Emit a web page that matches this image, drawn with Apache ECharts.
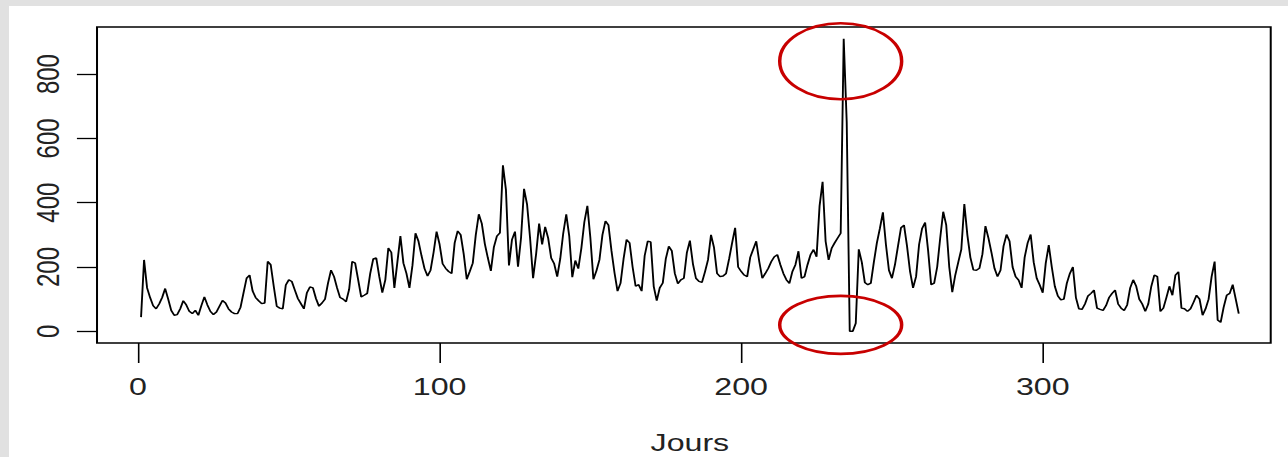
<!DOCTYPE html>
<html>
<head>
<meta charset="utf-8">
<script src="https://cdn.jsdelivr.net/npm/echarts@6/dist/echarts.min.js"></script>
<style>
  html, body { margin: 0; padding: 0; background: #e1e1e1; overflow: hidden; }
  #panel { position: absolute; left: 9px; top: 6px; right: 0; bottom: 0; background: #ffffff; }
  /* the plot is laid out narrower and widened horizontally, like a stretched R device */
  #chart { position: absolute; left: 0; top: 0; width: 961px; height: 457px;
           transform: scaleX(1.34); transform-origin: 0 0; }
</style>
</head>
<body>
<div id="panel"></div>
<div id="chart"></div>
<script>
// Daily counts, day 1 to day 365, in four blocks
const joursA = [
  44, 222, 135, 105, 80, 70, 85, 105, 133, 100, 65, 50, 52, 70, 95, 82, 62, 55, 65, 50,
  80, 107, 82, 62, 52, 60, 78, 96, 88, 70, 60, 55,
  55, 75, 120, 165, 175, 125, 105, 95, 86, 88, 217, 207, 140, 78, 72, 70, 144, 160,
  155, 128, 102, 86, 70, 120, 138, 135, 102, 78, 88, 100, 150, 190, 170, 135,
  105, 100, 92, 130, 217, 212, 160, 107, 112, 118, 180, 225, 228, 170, 120, 160, 259, 245,
  135, 215, 296, 212, 180, 135, 205, 305, 280, 235, 195, 172, 190, 245, 310
];
const joursB = [
  270, 210, 196, 186, 180, 275, 312, 300, 240, 162, 186, 212, 300, 364, 335, 272, 228, 188,
  262, 296, 306, 516, 440, 205, 285, 310, 201, 290, 443, 395, 290, 165, 240,
  335, 270, 325, 290, 228, 210, 170, 225, 305, 364, 295, 168, 220, 195, 258, 340, 390,
  290, 162, 188, 222, 300, 343, 330, 250, 182, 125, 150, 225, 285, 275, 200, 140, 145,
  125, 235, 280, 278, 140, 95, 135, 150, 225, 264, 250, 180, 148, 160, 165, 245, 282,
  210, 165, 155, 152, 185, 222, 300, 260, 180, 170, 172, 180, 225, 275, 322, 200, 186
];
const joursC = [
  175, 170, 230, 255, 280, 217, 165, 180, 196, 217, 232, 238, 207, 180, 160, 149, 186,
  207, 249, 165, 170, 207, 238, 254, 232, 390, 465, 280, 222, 258, 275, 290, 305,
  910, 650, 0, 0, 25, 255, 215, 152, 145, 150, 215, 275, 320, 370, 270, 190, 165, 207,
  265, 322, 330, 265, 186, 135, 170, 270, 320, 338, 250, 145, 150, 200, 290,
  372, 330, 200, 122, 175, 215, 255, 396, 300, 230, 191, 190, 196, 240, 327, 290, 245,
  196, 170, 190, 265, 301, 280, 200, 170, 159, 135, 230, 275, 301, 215, 165, 144, 120
];
const joursD = [
  212, 268, 200, 140, 110, 98, 100, 150, 180, 200, 105, 70, 68, 85, 110, 118, 128, 72,
  68, 65, 80, 105, 118, 128, 85, 72, 65, 82, 135, 160, 140, 100, 85,
  62, 85, 140, 175, 170, 62, 72, 105, 140, 112, 175, 185, 72, 70, 62, 70, 90, 112, 100,
  50, 70, 100, 170, 217, 35, 28, 75, 112, 118, 145, 100, 55
];

const xTicks = [0, 100, 200, 300];
const yTicks = [0, 200, 400, 600, 800];
const xLabel = 'Jours';

// Circled spots: the spike and the drop to zero just after it (data coordinates)
const circled = [[233, 840], [233, 20]];

const counts = joursA.concat(joursB, joursC, joursD);
const points = counts.map((v, i) => [i + 1, v]);

const font = 'Liberation Sans, Arial, sans-serif';
const chart = echarts.init(document.getElementById('chart'), null, { renderer: 'svg' });

chart.setOption({
  animation: false,
  backgroundColor: 'transparent',
  grid: {
    left: 72.4, right: 12.7, top: 27, bottom: 114,
    outerBoundsMode: 'none',
    show: true, borderColor: '#000', borderWidth: 1.5, backgroundColor: 'transparent'
  },
  xAxis: {
    type: 'value', min: -13.6, max: 375.6,
    axisLine: { show: false, onZero: false },
    splitLine: { show: false },
    axisTick: { show: true, inside: false, length: 20, customValues: xTicks,
      lineStyle: { color: '#000', width: 1.2 } },
    axisLabel: { customValues: xTicks, fontFamily: font, fontSize: 24, color: '#222', margin: 32 },
    name: xLabel, nameLocation: 'middle', nameGap: 88,
    nameTextStyle: { fontFamily: font, fontSize: 24, color: '#222', padding: [0, 0, 0, 9] }
  },
  yAxis: {
    type: 'value', min: -36.4, max: 946.4,
    axisLine: { show: false, onZero: false },
    splitLine: { show: false },
    axisTick: { show: true, inside: false, length: 15, customValues: yTicks,
      lineStyle: { color: '#000', width: 1.3 } },
    axisLabel: { customValues: yTicks, rotate: 90, fontFamily: font, fontSize: 24,
      color: '#222', margin: 25 }
  },
  series: [{
    type: 'line',
    data: points,
    showSymbol: false,
    symbol: 'none',
    sampling: 'none',
    lineStyle: { color: '#000', width: 1.4 }
  }]
});

// Red rings around the circled spots
const rings = circled.map((c, i) => {
  const p = chart.convertToPixel({ gridIndex: 0 }, c);
  return {
    type: 'ellipse',
    shape: { cx: p[0], cy: p[1], rx: 45.5, ry: i === 0 ? 38 : 29 },
    style: { fill: null, stroke: '#c80000', lineWidth: 2.6 },
    z: 100
  };
});
chart.setOption({ graphic: rings });
</script>
</body>
</html>
